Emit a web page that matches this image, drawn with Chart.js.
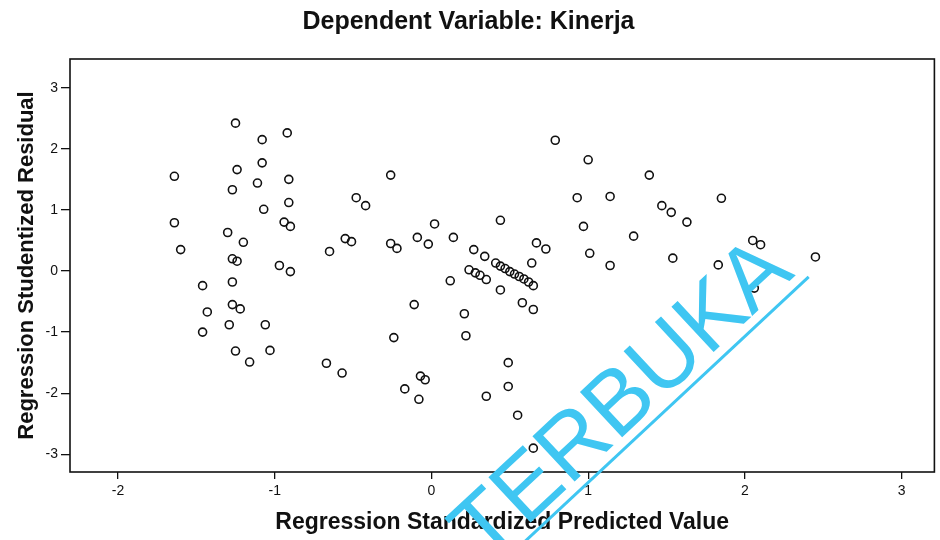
<!DOCTYPE html>
<html>
<head>
<meta charset="utf-8">
<script src="https://cdn.jsdelivr.net/npm/chart.js@4.4.0/dist/chart.umd.min.js"></script>
<style>
  html, body { margin: 0; padding: 0; background: #fff; }
  #wrap { width: 940px; height: 540px; }
</style>
</head>
<body>
<div id="wrap"><canvas id="chart" width="940" height="540"></canvas></div>
<script>
// Regression Standardized Predicted Value (x) / Regression Studentized Residual (y)
const predicted = [
  -1.64, -1.64, -1.60, -1.46, -1.43, -1.46, -1.25, -1.24, -1.27, -1.30,
  -1.20, -1.27, -1.24, -1.27, -1.27, -1.22, -1.29, -1.25, -1.16, -1.08,
  -1.08, -1.11, -1.07, -0.92, -0.91, -0.91, -0.94, -0.90, -0.97, -0.90,
  -1.06, -1.03,
  -0.67, -0.57, -0.65, -0.55, -0.51, -0.48, -0.42, -0.26, -0.26, -0.22,
  -0.09, -0.02, 0.02, 0.14, -0.11, -0.24, -0.07, -0.04, -0.17, -0.08,
  0.12, 0.21, 0.22,
  0.27, 0.34, 0.41, 0.44, 0.47, 0.50, 0.53, 0.56, 0.59, 0.62,
  0.65, 0.24, 0.28, 0.31, 0.35, 0.44, 0.64, 0.67, 0.73, 0.44,
  0.58, 0.65, 0.49, 0.49, 0.35, 0.55, 0.65,
  0.79, 1.00, 0.93, 1.14, 0.97, 1.01, 1.14, 1.29, 1.39, 1.47,
  1.53, 1.63, 1.54, 1.85, 1.83, 2.05, 2.10, 2.06, 2.45
];
const residual = [
  1.55, 0.79, 0.35, -0.24, -0.67, -1.00, 2.42, 1.66, 1.33, 0.63,
  0.47, 0.20, 0.16, -0.18, -0.55, -0.62, -0.88, -1.31, -1.49, 2.15,
  1.77, 1.44, 1.01, 2.26, 1.50, 1.12, 0.80, 0.73, 0.09, -0.01,
  -0.88, -1.30,
  -1.51, -1.67, 0.32, 0.53, 0.48, 1.20, 1.07, 1.57, 0.45, 0.37,
  0.55, 0.44, 0.77, 0.55, -0.55, -1.09, -1.72, -1.78, -1.93, -2.10,
  -0.16, -0.70, -1.06,
  0.35, 0.24, 0.13, 0.08, 0.04, -0.01, -0.05, -0.09, -0.13, -0.18,
  -0.24, 0.02, -0.03, -0.07, -0.14, -0.31, 0.13, 0.46, 0.36, 0.83,
  -0.52, -0.63, -1.50, -1.89, -2.05, -2.36, -2.90,
  2.14, 1.82, 1.20, 1.22, 0.73, 0.29, 0.09, 0.57, 1.57, 1.07,
  0.96, 0.80, 0.21, 1.19, 0.10, 0.50, 0.43, -0.28, 0.23
];
const xTicks = [-2, -1, 0, 1, 2, 3];
const yTicks = [-3, -2, -1, 0, 1, 2, 3];

const FONT = '"Liberation Sans", Arial, sans-serif';
const INK = '#111';
const STAMP = '#3fc6f2';

// box round the plot area
const frame = {
  id: 'frame',
  beforeDatasetsDraw(chart) {
    const { ctx, chartArea: a } = chart;
    ctx.save();
    ctx.strokeStyle = INK;
    ctx.lineWidth = 1.6;
    ctx.strokeRect(a.left, a.top, a.right - a.left, a.bottom - a.top);
    ctx.restore();
  }
};

// blue stamp across the scan, word and underline on one slant
const watermark = {
  id: 'watermark',
  afterDraw(chart) {
    const { ctx } = chart;
    ctx.save();
    ctx.translate(796, 275);
    ctx.rotate(-43 * Math.PI / 180);
    ctx.fillStyle = STAMP;
    ctx.strokeStyle = STAMP;
    ctx.font = '90px ' + FONT;
    ctx.textAlign = 'right';
    ctx.textBaseline = 'alphabetic';
    ctx.fillText('TERBUKA', 0, 0);
    ctx.lineWidth = 3;
    ctx.beginPath();
    ctx.moveTo(8, 10);
    ctx.lineTo(-480, 10);
    ctx.stroke();
    ctx.restore();
  }
};

const points = predicted.map((x, i) => ({ x, y: residual[i] }));

new Chart(document.getElementById('chart'), {
  type: 'scatter',
  data: {
    datasets: [{
      data: points,
      pointStyle: 'circle',
      pointRadius: 4,
      pointBorderWidth: 1.6,
      pointBorderColor: INK,
      pointBackgroundColor: 'rgba(0,0,0,0)'
    }]
  },
  options: {
    responsive: false,
    animation: false,
    layout: { padding: { left: 0, right: 3, top: 0, bottom: 0 } },
    plugins: {
      legend: { display: false },
      tooltip: { enabled: false },
      title: {
        display: true,
        text: 'Dependent Variable: Kinerja',
        color: INK,
        font: { family: FONT, size: 25, weight: 'bold' },
        padding: { top: 7, bottom: 22 }
      }
    },
    scales: {
      x: {
        type: 'linear',
        min: -2.306,
        max: 3.209,
        afterBuildTicks: (s) => { s.ticks = xTicks.map((v) => ({ value: v })); },
        afterFit: (s) => { s.height = 68; },
        border: { display: false },
        grid: { drawOnChartArea: false, drawTicks: true, tickLength: 7, color: INK, lineWidth: 1.3 },
        ticks: { color: INK, padding: 4, font: { family: FONT, size: 14 } },
        title: {
          display: true,
          text: 'Regression Standardized Predicted Value',
          color: INK,
          font: { family: FONT, size: 23, weight: 'bold' },
          padding: { top: 0, bottom: 4 }
        }
      },
      y: {
        type: 'linear',
        min: -3.29,
        max: 3.47,
        afterBuildTicks: (s) => { s.ticks = yTicks.map((v) => ({ value: v })); },
        afterFit: (s) => { s.width = 70; },
        border: { display: false },
        grid: { drawOnChartArea: false, drawTicks: true, tickLength: 9, color: INK, lineWidth: 1.3 },
        ticks: { color: INK, padding: 3, font: { family: FONT, size: 14 } },
        title: {
          display: true,
          text: 'Regression Studentized Residual',
          color: INK,
          font: { family: FONT, size: 22, weight: 'bold' },
          padding: { top: 14, bottom: 0 }
        }
      }
    }
  },
  plugins: [frame, watermark]
});
</script>
</body>
</html>
